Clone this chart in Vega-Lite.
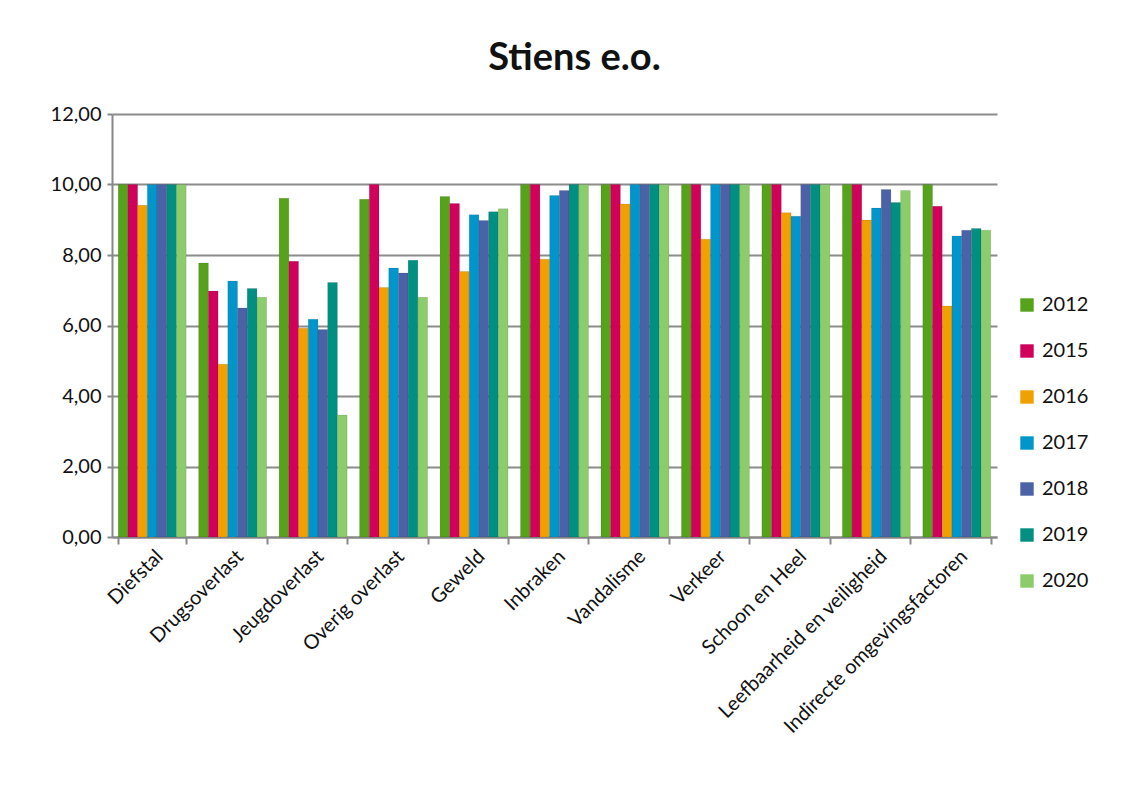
{
  "$schema": "https://vega.github.io/schema/vega-lite/v6.json",
  "width": 885,
  "height": 423,
  "autosize": "none",
  "padding": {"left": 112, "top": 114, "right": 138, "bottom": 262},
  "background": "white",
  "title": {
    "text": "Stiens e.o.",
    "font": "Lato",
    "fontSize": 38,
    "fontWeight": "bold",
    "color": "#111111",
    "anchor": "middle",
    "dx": 20,
    "offset": 26
  },
  "data": {
    "values": [
      {"cat": "Diefstal", "year": "2012", "v": 10},
      {"cat": "Diefstal", "year": "2015", "v": 10},
      {"cat": "Diefstal", "year": "2016", "v": 9.41},
      {"cat": "Diefstal", "year": "2017", "v": 10},
      {"cat": "Diefstal", "year": "2018", "v": 10},
      {"cat": "Diefstal", "year": "2019", "v": 10},
      {"cat": "Diefstal", "year": "2020", "v": 10},
      {"cat": "Drugsoverlast", "year": "2012", "v": 7.77},
      {"cat": "Drugsoverlast", "year": "2015", "v": 6.98},
      {"cat": "Drugsoverlast", "year": "2016", "v": 4.9},
      {"cat": "Drugsoverlast", "year": "2017", "v": 7.26},
      {"cat": "Drugsoverlast", "year": "2018", "v": 6.5},
      {"cat": "Drugsoverlast", "year": "2019", "v": 7.05},
      {"cat": "Drugsoverlast", "year": "2020", "v": 6.8},
      {"cat": "Jeugdoverlast", "year": "2012", "v": 9.61},
      {"cat": "Jeugdoverlast", "year": "2015", "v": 7.82},
      {"cat": "Jeugdoverlast", "year": "2016", "v": 5.92},
      {"cat": "Jeugdoverlast", "year": "2017", "v": 6.18},
      {"cat": "Jeugdoverlast", "year": "2018", "v": 5.89},
      {"cat": "Jeugdoverlast", "year": "2019", "v": 7.22},
      {"cat": "Jeugdoverlast", "year": "2020", "v": 3.46},
      {"cat": "Overig overlast", "year": "2012", "v": 9.58},
      {"cat": "Overig overlast", "year": "2015", "v": 10},
      {"cat": "Overig overlast", "year": "2016", "v": 7.08},
      {"cat": "Overig overlast", "year": "2017", "v": 7.63},
      {"cat": "Overig overlast", "year": "2018", "v": 7.49},
      {"cat": "Overig overlast", "year": "2019", "v": 7.85},
      {"cat": "Overig overlast", "year": "2020", "v": 6.8},
      {"cat": "Geweld", "year": "2012", "v": 9.66},
      {"cat": "Geweld", "year": "2015", "v": 9.46},
      {"cat": "Geweld", "year": "2016", "v": 7.53},
      {"cat": "Geweld", "year": "2017", "v": 9.14},
      {"cat": "Geweld", "year": "2018", "v": 8.98},
      {"cat": "Geweld", "year": "2019", "v": 9.23},
      {"cat": "Geweld", "year": "2020", "v": 9.31},
      {"cat": "Inbraken", "year": "2012", "v": 10},
      {"cat": "Inbraken", "year": "2015", "v": 10},
      {"cat": "Inbraken", "year": "2016", "v": 7.88},
      {"cat": "Inbraken", "year": "2017", "v": 9.69},
      {"cat": "Inbraken", "year": "2018", "v": 9.83},
      {"cat": "Inbraken", "year": "2019", "v": 10},
      {"cat": "Inbraken", "year": "2020", "v": 10},
      {"cat": "Vandalisme", "year": "2012", "v": 10},
      {"cat": "Vandalisme", "year": "2015", "v": 10},
      {"cat": "Vandalisme", "year": "2016", "v": 9.45},
      {"cat": "Vandalisme", "year": "2017", "v": 10},
      {"cat": "Vandalisme", "year": "2018", "v": 10},
      {"cat": "Vandalisme", "year": "2019", "v": 10},
      {"cat": "Vandalisme", "year": "2020", "v": 10},
      {"cat": "Verkeer", "year": "2012", "v": 10},
      {"cat": "Verkeer", "year": "2015", "v": 10},
      {"cat": "Verkeer", "year": "2016", "v": 8.45},
      {"cat": "Verkeer", "year": "2017", "v": 10},
      {"cat": "Verkeer", "year": "2018", "v": 10},
      {"cat": "Verkeer", "year": "2019", "v": 10},
      {"cat": "Verkeer", "year": "2020", "v": 10},
      {"cat": "Schoon en Heel", "year": "2012", "v": 10},
      {"cat": "Schoon en Heel", "year": "2015", "v": 10},
      {"cat": "Schoon en Heel", "year": "2016", "v": 9.2},
      {"cat": "Schoon en Heel", "year": "2017", "v": 9.1},
      {"cat": "Schoon en Heel", "year": "2018", "v": 10},
      {"cat": "Schoon en Heel", "year": "2019", "v": 10},
      {"cat": "Schoon en Heel", "year": "2020", "v": 10},
      {"cat": "Leefbaarheid en veiligheid", "year": "2012", "v": 10},
      {"cat": "Leefbaarheid en veiligheid", "year": "2015", "v": 10},
      {"cat": "Leefbaarheid en veiligheid", "year": "2016", "v": 8.99},
      {"cat": "Leefbaarheid en veiligheid", "year": "2017", "v": 9.33},
      {"cat": "Leefbaarheid en veiligheid", "year": "2018", "v": 9.86},
      {"cat": "Leefbaarheid en veiligheid", "year": "2019", "v": 9.49},
      {"cat": "Leefbaarheid en veiligheid", "year": "2020", "v": 9.83},
      {"cat": "Indirecte omgevingsfactoren", "year": "2012", "v": 10},
      {"cat": "Indirecte omgevingsfactoren", "year": "2015", "v": 9.38},
      {"cat": "Indirecte omgevingsfactoren", "year": "2016", "v": 6.55},
      {"cat": "Indirecte omgevingsfactoren", "year": "2017", "v": 8.54},
      {"cat": "Indirecte omgevingsfactoren", "year": "2018", "v": 8.7},
      {"cat": "Indirecte omgevingsfactoren", "year": "2019", "v": 8.75},
      {"cat": "Indirecte omgevingsfactoren", "year": "2020", "v": 8.7}
    ]
  },
  "mark": {"type": "bar", "stroke": "#00000033", "strokeWidth": 0.5},
  "encoding": {
    "x": {
      "field": "cat",
      "type": "nominal",
      "sort": null,
      "title": null,
      "scale": {"paddingInner": 0.155, "paddingOuter": 0.077},
      "axis": {
        "labelAngle": -45,
        "labelAlign": "right",
        "labelBaseline": "top",
        "labelFont": "Lato",
        "labelFontSize": 20,
        "labelColor": "#111111",
        "labelPadding": 2,
        "labelLimit": 400,
        "tickBand": "extent",
        "tickColor": "#888888",
        "tickWidth": 2,
        "tickSize": 7,
        "domainColor": "#888888",
        "domainWidth": 2,
        "grid": false
      }
    },
    "xOffset": {"field": "year", "type": "nominal", "scale": {"paddingInner": 0, "paddingOuter": 0}},
    "y": {
      "field": "v",
      "type": "quantitative",
      "title": null,
      "scale": {"domain": [0, 12], "nice": false},
      "axis": {
        "values": [0, 2, 4, 6, 8, 10, 12],
        "format": ".2f",
        "labelExpr": "replace(datum.label, '.', ',')",
        "labelFont": "Lato",
        "labelFontSize": 20,
        "labelColor": "#111111",
        "labelPadding": 6,
        "tickColor": "#888888",
        "tickWidth": 2,
        "tickSize": 5,
        "domainColor": "#888888",
        "domainWidth": 2,
        "gridColor": "#8c8c8c",
        "gridWidth": 2
      }
    },
    "color": {
      "field": "year",
      "type": "nominal",
      "title": null,
      "scale": {
        "domain": ["2012", "2015", "2016", "2017", "2018", "2019", "2020"],
        "range": ["#56a21a", "#d1005a", "#f0a000", "#0096cc", "#4c62a6", "#008f80", "#8ccc6a"]
      },
      "legend": {
        "orient": "none",
        "legendX": 905,
        "legendY": 181,
        "symbolType": "square",
        "symbolSize": 180,
        "symbolStrokeWidth": 0,
        "labelFont": "Lato",
        "labelFontSize": 20,
        "labelColor": "#111111",
        "rowPadding": 26,
        "labelOffset": 5
      }
    }
  },
  "config": {"view": {"stroke": null}}
}
